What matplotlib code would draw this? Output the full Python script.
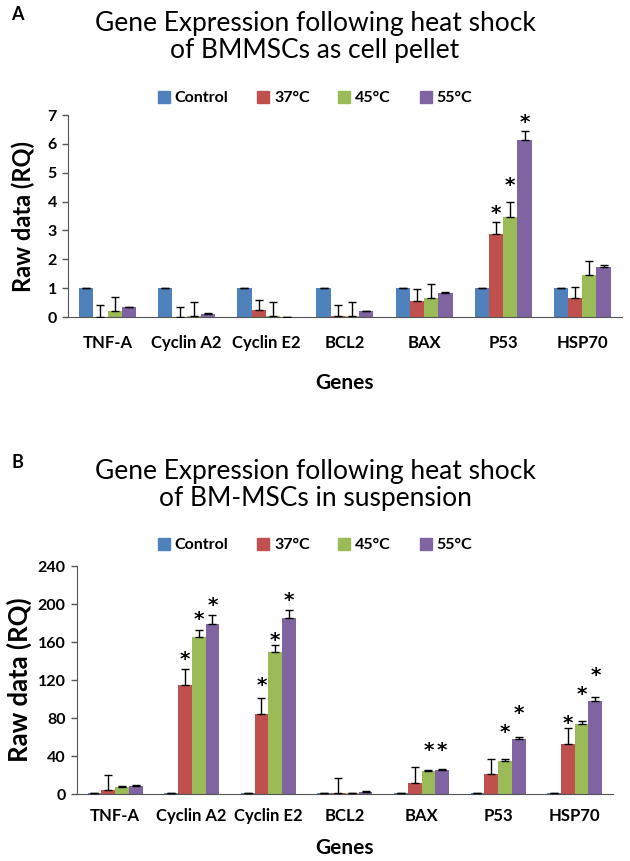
import matplotlib
matplotlib.use("Agg")
import matplotlib.pyplot as plt
from matplotlib.patches import Patch
import numpy as np

plt.rcParams['font.family'] = ['Lato', 'DejaVu Sans']

genes = ["TNF-A", "Cyclin A2", "Cyclin E2", "BCL2", "BAX", "P53", "HSP70"]
series = ["Control", "37°C", "45°C", "55°C"]
colors = ["#4F81BD", "#C0504D", "#9BBB59", "#8064A2"]

# Panel A: cell pellet
a_ctrl = [1, 1, 1, 1, 1, 1, 1]
a_37 = [0.0, 0.0, 0.25, 0.05, 0.57, 2.88, 0.65]
a_45 = [0.2, 0.05, 0.02, 0.02, 0.65, 3.48, 1.47]
a_55 = [0.33, 0.12, 0.0, 0.2, 0.82, 6.12, 1.75]
a_ctrl_err = [0, 0, 0, 0, 0, 0, 0]
a_37_err = [0.42, 0.36, 0.35, 0.36, 0.4, 0.4, 0.4]
a_45_err = [0.5, 0.48, 0.5, 0.5, 0.48, 0.49, 0.48]
a_55_err = [0.02, 0.02, 0.0, 0.02, 0.03, 0.31, 0.07]
# significance stars: (gene index, series index, star height)
a_stars = [(5, 1, 3.8), (5, 2, 4.75), (5, 3, 6.95)]

# Panel B: suspension
b_ctrl = [1, 1, 1, 1, 1, 1, 1]
b_37 = [4, 115, 84, 1.5, 11.5, 21.5, 53]
b_45 = [7, 165, 150, 1, 24, 35, 74]
b_55 = [8.5, 179, 185, 2.5, 25.5, 57.5, 98]
b_ctrl_err = [0, 0, 0, 0, 0, 0, 0]
b_37_err = [16, 17, 17, 15.5, 16.5, 15.5, 16]
b_45_err = [1, 8, 7, 0.5, 1, 2, 3]
b_55_err = [0.5, 9, 9, 0.5, 1, 2, 4]
b_stars = [(1, 1, 148), (1, 2, 190), (1, 3, 205),
           (2, 1, 120), (2, 2, 168), (2, 3, 210),
           (4, 2, 51.5), (4, 3, 51.5),
           (5, 2, 70.5), (5, 3, 90.5),
           (6, 1, 80), (6, 2, 110.5), (6, 3, 130.5)]

fig = plt.figure(figsize=(6.3, 8.61), dpi=100)

def panel(rect, vals, errs, stars, ymax, ystep, ylabel_size, ylabel_x, tick_pad, xlabel_pad,
          title, letter, letter_y, title_y, legend_y):
    ax = fig.add_axes(rect)
    x = np.arange(len(genes))
    w = 0.18
    for i, (v, e) in enumerate(zip(vals, errs)):
        pos = x + (i - 1.5) * w
        ax.bar(pos, v, width=w, color=colors[i], edgecolor='none', zorder=2)
        ax.errorbar(pos, v, yerr=[np.zeros(len(e)), e], fmt='none', ecolor='black',
                    elinewidth=1, capsize=3, capthick=1, zorder=3)
    for g, i, h in stars:
        pos = g + (i - 1.5) * w
        ax.annotate("*", (pos, h), xytext=(0, -8.2), textcoords='offset points',
                    ha='center', va='baseline', fontsize=14.5, fontweight='bold',
                    family='DejaVu Sans', annotation_clip=False)
    ax.set_xlim(-0.5, len(genes) - 0.5)
    ax.set_ylim(0, ymax)
    ax.set_yticks(np.arange(0, ymax + 0.001, ystep))
    ax.set_xticks(x)
    ax.set_xticklabels(genes, fontweight='bold', fontsize=12)
    for lbl in ax.get_yticklabels():
        lbl.set_fontweight('bold')
        lbl.set_fontsize(11.5)
    ax.tick_params(axis='x', length=0, pad=tick_pad)
    ax.tick_params(axis='y', length=4, direction='out', width=1, color='#555555', pad=4)
    for s in ['top', 'right']:
        ax.spines[s].set_visible(False)
    for s in ['left', 'bottom']:
        ax.spines[s].set_color('#555555')
    ax.set_ylabel("Raw data (RQ)", fontweight='bold', fontsize=ylabel_size)
    ax.yaxis.set_label_coords(ylabel_x, 0.5)
    ax.set_xlabel("Genes", fontweight='bold', fontsize=15, labelpad=xlabel_pad)
    fig.text(0.5, title_y, title, ha='center', va='center', fontsize=19, linespacing=1.12)
    fig.text(0.018, letter_y, letter, ha='left', va='center', fontsize=13, fontweight='bold')
    handles = [Patch(color=c) for c in colors]
    fig.legend(handles, series, loc='center', bbox_to_anchor=(0.5, legend_y), ncol=4,
               frameon=False, handlelength=0.75, handleheight=0.75, handletextpad=0.3,
               columnspacing=1.8, prop={'weight': 'bold', 'size': 11.5})
    return ax

panel([0.108, 0.6318, 0.879, 0.2346],
      [a_ctrl, a_37, a_45, a_55], [a_ctrl_err, a_37_err, a_45_err, a_55_err],
      a_stars, 7, 1, 17, -0.06, 13, 16,
      "Gene Expression following heat shock\nof BMMSCs as cell pellet", "A", 0.983, 0.957, 0.886)

panel([0.122, 0.0778, 0.851, 0.2648],
      [b_ctrl, b_37, b_45, b_55], [b_ctrl_err, b_37_err, b_45_err, b_55_err],
      b_stars, 240, 40, 18.5, -0.084, 10, 10,
      "Gene Expression following heat shock\nof BM-MSCs in suspension", "B", 0.463, 0.437, 0.367)

fig.savefig("out.png", dpi=100)
